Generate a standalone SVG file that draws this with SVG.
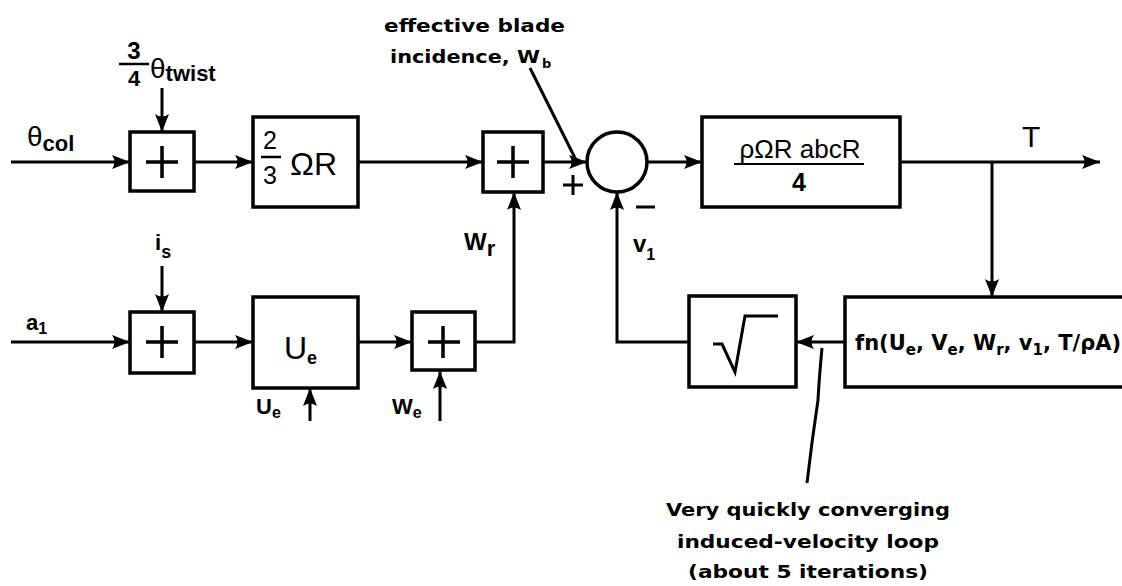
<svg xmlns="http://www.w3.org/2000/svg" width="1122" height="586" viewBox="0 0 1122 586">
<defs>
<marker id="ah" markerUnits="userSpaceOnUse" markerWidth="20" markerHeight="16" refX="18" refY="8" orient="auto">
<path d="M0,1 L18,8 L0,15 Q5,8 0,1 z" fill="#000"/>
</marker>
<style>
.box{fill:#fff;stroke:#000;stroke-width:3.5}
.ln{fill:none;stroke:#000;stroke-width:3}
.pl{fill:none;stroke:#000;stroke-width:3.5}
.lab{font-family:"DejaVu Sans",sans-serif;font-weight:bold;fill:#000}
.math{font-family:"Liberation Sans",sans-serif;fill:#000}
</style>
</defs>
<rect width="1122" height="586" fill="#fff"/>

<g id="connectors">
<line class="ln" x1="11" y1="162" x2="130" y2="162" marker-end="url(#ah)"/>
<line class="ln" x1="162" y1="88" x2="162" y2="132" marker-end="url(#ah)"/>
<line class="ln" x1="194" y1="162" x2="253" y2="162" marker-end="url(#ah)"/>
<line class="ln" x1="358" y1="162" x2="483" y2="162" marker-end="url(#ah)"/>
<line class="ln" x1="543" y1="162" x2="587" y2="162" marker-end="url(#ah)"/>
<line class="ln" x1="647" y1="162" x2="702" y2="162" marker-end="url(#ah)"/>
<line class="ln" x1="900" y1="162" x2="1100" y2="162" marker-end="url(#ah)"/>
<line class="ln" x1="992" y1="162" x2="992" y2="297" marker-end="url(#ah)"/>
<line class="ln" x1="845" y1="342" x2="796" y2="342" marker-end="url(#ah)"/>
<polyline class="ln" points="689,342 617,342 617,192" marker-end="url(#ah)"/>
<line class="ln" x1="11" y1="342" x2="130" y2="342" marker-end="url(#ah)"/>
<line class="ln" x1="162" y1="266" x2="162" y2="312" marker-end="url(#ah)"/>
<line class="ln" x1="194" y1="342" x2="253" y2="342" marker-end="url(#ah)"/>
<line class="ln" x1="358" y1="342" x2="412" y2="342" marker-end="url(#ah)"/>
<polyline class="ln" points="475,342 514,342 514,192" marker-end="url(#ah)"/>
<line class="ln" x1="310" y1="421" x2="310" y2="388" marker-end="url(#ah)"/>
<line class="ln" x1="440" y1="421" x2="440" y2="371" marker-end="url(#ah)"/>
<line class="ln" x1="530" y1="68" x2="576" y2="160"/>
<path class="ln" d="M822,348 Q819,380 818,400 Q812,440 807,483" stroke-width="2.5"/>
</g>

<g id="sum1">
<rect class="box" x="130" y="132" width="64" height="59"/>
<path class="pl" d="M146,162 H178 M162,146 V178"/>
</g>
<g id="sum2">
<rect class="box" x="483" y="132" width="60" height="60"/>
<path class="pl" d="M497,162 H529 M513,146 V178"/>
</g>
<g id="sum3">
<rect class="box" x="130" y="312" width="64" height="61"/>
<path class="pl" d="M146,342 H178 M162,326 V358"/>
</g>
<g id="sum4">
<rect class="box" x="412" y="312" width="63" height="58"/>
<path class="pl" d="M428,342 H460 M443,326 V358"/>
</g>

<g id="gain">
<rect class="box" x="253" y="117" width="105" height="90"/>
<text class="math" x="270" y="149" font-size="25" text-anchor="middle">2</text>
<line x1="261" y1="157" x2="281" y2="157" stroke="#000" stroke-width="2.5"/>
<text class="math" x="270" y="184" font-size="25" text-anchor="middle">3</text>
<text class="math" x="290" y="175" font-size="32">ΩR</text>
</g>

<g id="ue_block">
<rect class="box" x="253" y="297" width="105" height="91"/>
<text class="math" x="284" y="359" font-size="32">U<tspan font-size="18" font-weight="bold" dy="5">e</tspan></text>
</g>

<g id="junction">
<circle cx="617" cy="162" r="30" fill="#fff" stroke="#000" stroke-width="3.5"/>
<path class="ln" d="M563,185 H583 M573,175 V195 M636,207 H655"/>
</g>

<g id="thrust">
<rect class="box" x="702" y="117" width="198" height="90"/>
<text class="math" x="800" y="158" font-size="26" text-anchor="middle">ρΩR abcR</text>
<line x1="734" y1="164" x2="864" y2="164" stroke="#000" stroke-width="2"/>
<text class="math" x="799" y="191" font-size="25" font-weight="bold" text-anchor="middle">4</text>
</g>

<g id="sqrt">
<rect class="box" x="689" y="296" width="107" height="91"/>
<polyline class="ln" points="713,344 722,344 735,372 745,316 778,316"/>
</g>

<g id="fn">
<rect class="box" x="845" y="297" width="290" height="90"/>
<text class="lab" x="855" y="350" font-size="21">fn(U<tspan font-size="15" dy="5">e</tspan><tspan dy="-5">, V</tspan><tspan font-size="15" dy="5">e</tspan><tspan dy="-5">, W</tspan><tspan font-size="15" dy="5">r</tspan><tspan dy="-5">, v</tspan><tspan font-size="15" dy="5">1</tspan><tspan dy="-5">, T/ρA)</tspan></text>
</g>

<g id="labels">
<text class="math" x="27" y="146" font-size="28">θ<tspan font-size="22" dy="5" font-weight="bold">col</tspan></text>
<text class="math" x="134" y="59" font-size="24" font-weight="bold" text-anchor="middle">3</text>
<line x1="119" y1="64" x2="149" y2="64" stroke="#000" stroke-width="2.5"/>
<text class="math" x="134" y="86" font-size="22" font-weight="bold" text-anchor="middle">4</text>
<text class="math" x="150" y="78" font-size="28">θ<tspan font-size="22" dy="3" font-weight="bold">twist</tspan></text>
<text class="math" x="155" y="250" font-size="22" font-weight="bold">i<tspan font-size="18" dy="8">s</tspan></text>
<text class="math" x="26" y="330" font-size="22" font-weight="bold">a<tspan font-size="16" dy="4">1</tspan></text>
<text class="math" x="256" y="414" font-size="22" font-weight="bold">U<tspan font-size="16" dy="4">e</tspan></text>
<text class="math" x="392" y="414" font-size="22" font-weight="bold">W<tspan font-size="16" dy="4">e</tspan></text>
<text class="math" x="464" y="250" font-size="24" font-weight="bold">W<tspan font-size="22" dy="6">r</tspan></text>
<text class="math" x="633" y="252" font-size="24" font-weight="bold">v<tspan font-size="16" dy="8">1</tspan></text>
<text class="math" x="1022" y="147" font-size="30">T</text>
<text class="lab" x="384" y="32" font-size="18" textLength="181" lengthAdjust="spacingAndGlyphs">effective blade</text>
<text class="lab" x="390" y="63" font-size="18" textLength="150" lengthAdjust="spacingAndGlyphs">incidence, W</text><text class="lab" x="542" y="68" font-size="13">b</text>
<text class="lab" x="808" y="516" font-size="18" text-anchor="middle" textLength="284" lengthAdjust="spacingAndGlyphs">Very quickly converging</text>
<text class="lab" x="808" y="548" font-size="18" text-anchor="middle" textLength="262" lengthAdjust="spacingAndGlyphs">induced-velocity loop</text>
<text class="lab" x="808" y="578" font-size="18" text-anchor="middle" textLength="240" lengthAdjust="spacingAndGlyphs">(about 5 iterations)</text>
</g>
</svg>
